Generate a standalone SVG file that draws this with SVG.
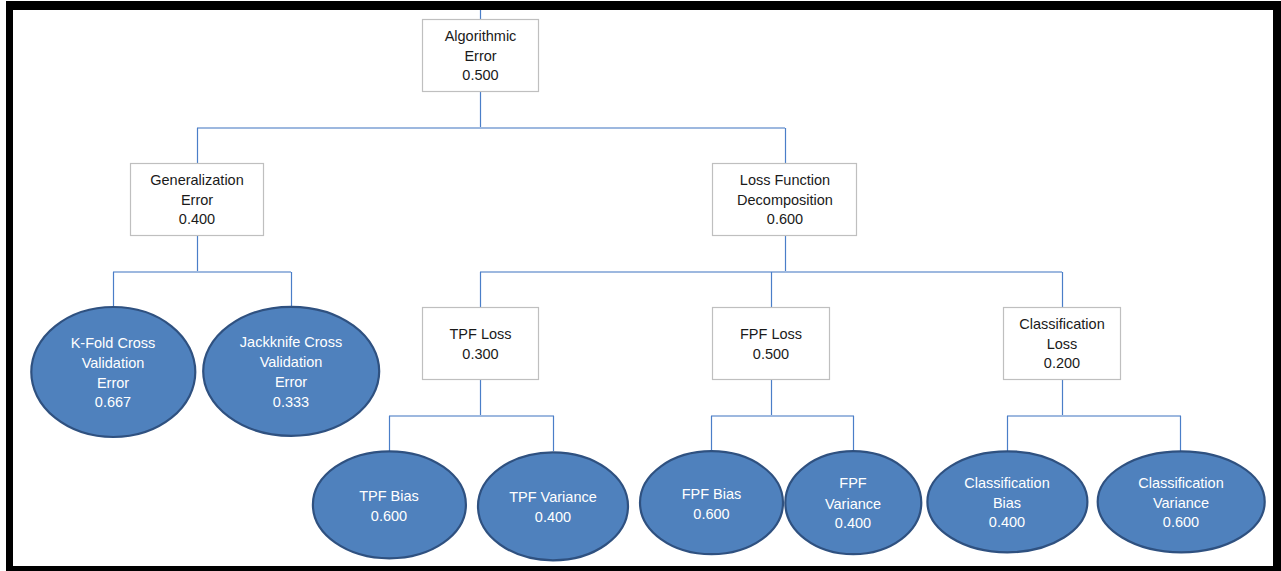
<svg xmlns="http://www.w3.org/2000/svg" width="1281" height="571" viewBox="0 0 1281 571">
  <style>
    .box { fill: #ffffff; stroke: #bfbfbf; stroke-width: 1.2; }
    .oval { fill: #4f81bd; stroke: #2f5180; stroke-width: 2.2; }
    .bt { font-family: "Liberation Sans", Arial, sans-serif; font-size: 14.5px; fill: #1a1a1a; text-anchor: middle; }
    .ot { font-family: "Liberation Sans", Arial, sans-serif; font-size: 14.5px; fill: #ffffff; text-anchor: middle; }
    .v { stroke: #4a7ec8; stroke-width: 1.2; fill: none; }
    .h { stroke: #9db8df; stroke-width: 2; fill: none; }
  </style>

  <!-- frame -->
  <rect x="0" y="0" width="1281" height="571" fill="#ffffff"/>
  <rect x="6" y="1" width="1275" height="570" fill="#000000"/>
  <rect x="13" y="10" width="1260" height="556" fill="#ffffff"/>

  <!-- connectors -->
  <g id="connectors">
    <line class="v" x1="480.5" y1="10" x2="480.5" y2="19"/>
    <line class="v" x1="480.5" y1="91" x2="480.5" y2="128"/>
    <line class="h" x1="197" y1="128" x2="785" y2="128"/>
    <line class="v" x1="197.5" y1="128" x2="197.5" y2="163"/>
    <line class="v" x1="785.5" y1="128" x2="785.5" y2="163"/>

    <line class="v" x1="197.5" y1="235" x2="197.5" y2="272"/>
    <line class="h" x1="113" y1="272" x2="291" y2="272"/>
    <line class="v" x1="113.5" y1="272" x2="113.5" y2="307"/>
    <line class="v" x1="291.5" y1="272" x2="291.5" y2="307"/>

    <line class="v" x1="785.5" y1="235" x2="785.5" y2="272"/>
    <line class="h" x1="480" y1="272" x2="1062" y2="272"/>
    <line class="v" x1="480.5" y1="272" x2="480.5" y2="307"/>
    <line class="v" x1="771.5" y1="272" x2="771.5" y2="307"/>
    <line class="v" x1="1062.5" y1="272" x2="1062.5" y2="307"/>

    <line class="v" x1="480.5" y1="379" x2="480.5" y2="416"/>
    <line class="h" x1="389" y1="416" x2="554" y2="416"/>
    <line class="v" x1="389.5" y1="416" x2="389.5" y2="451"/>
    <line class="v" x1="553.5" y1="416" x2="553.5" y2="451"/>

    <line class="v" x1="771.5" y1="379" x2="771.5" y2="416"/>
    <line class="h" x1="711" y1="416" x2="854" y2="416"/>
    <line class="v" x1="711.5" y1="416" x2="711.5" y2="451"/>
    <line class="v" x1="853.5" y1="416" x2="853.5" y2="451"/>

    <line class="v" x1="1062.5" y1="379" x2="1062.5" y2="416"/>
    <line class="h" x1="1007" y1="416" x2="1181" y2="416"/>
    <line class="v" x1="1007.5" y1="416" x2="1007.5" y2="451"/>
    <line class="v" x1="1180.5" y1="416" x2="1180.5" y2="451"/>
  </g>

  <!-- rectangular nodes -->
  <g id="algorithmic-error">
    <rect class="box" x="422.5" y="19.5" width="116" height="72"/>
    <text class="bt" x="480.5" y="41">Algorithmic</text>
    <text class="bt" x="480.5" y="61">Error</text>
    <text class="bt" x="480.5" y="80">0.500</text>
  </g>
  <g id="generalization-error">
    <rect class="box" x="130.5" y="163.5" width="133" height="72"/>
    <text class="bt" x="197" y="185">Generalization</text>
    <text class="bt" x="197" y="205">Error</text>
    <text class="bt" x="197" y="224">0.400</text>
  </g>
  <g id="loss-function-decomposition">
    <rect class="box" x="712.5" y="163.5" width="144" height="72"/>
    <text class="bt" x="785" y="185">Loss Function</text>
    <text class="bt" x="785" y="205">Decomposition</text>
    <text class="bt" x="785" y="224">0.600</text>
  </g>
  <g id="tpf-loss">
    <rect class="box" x="422.5" y="307.5" width="116" height="72"/>
    <text class="bt" x="480.5" y="339">TPF Loss</text>
    <text class="bt" x="480.5" y="359">0.300</text>
  </g>
  <g id="fpf-loss">
    <rect class="box" x="712.5" y="307.5" width="117" height="72"/>
    <text class="bt" x="771" y="339">FPF Loss</text>
    <text class="bt" x="771" y="359">0.500</text>
  </g>
  <g id="classification-loss">
    <rect class="box" x="1003.5" y="307.5" width="117" height="72"/>
    <text class="bt" x="1062" y="329">Classification</text>
    <text class="bt" x="1062" y="349">Loss</text>
    <text class="bt" x="1062" y="368">0.200</text>
  </g>

  <!-- elliptical leaf nodes -->
  <g id="kfold-cv-error">
    <ellipse class="oval" cx="113.3" cy="372" rx="82" ry="65"/>
    <text class="ot" x="113" y="348">K-Fold Cross</text>
    <text class="ot" x="113" y="368">Validation</text>
    <text class="ot" x="113" y="387.5">Error</text>
    <text class="ot" x="113" y="407">0.667</text>
  </g>
  <g id="jackknife-cv-error">
    <ellipse class="oval" cx="291.2" cy="371.3" rx="88" ry="64.5"/>
    <text class="ot" x="291" y="347">Jackknife Cross</text>
    <text class="ot" x="291" y="367">Validation</text>
    <text class="ot" x="291" y="386.5">Error</text>
    <text class="ot" x="291" y="406.5">0.333</text>
  </g>
  <g id="tpf-bias">
    <ellipse class="oval" cx="389.4" cy="504.8" rx="76.5" ry="53.5"/>
    <text class="ot" x="389" y="500.5">TPF Bias</text>
    <text class="ot" x="389" y="520.5">0.600</text>
  </g>
  <g id="tpf-variance">
    <ellipse class="oval" cx="553" cy="506.3" rx="75" ry="54"/>
    <text class="ot" x="553" y="502">TPF Variance</text>
    <text class="ot" x="553" y="522">0.400</text>
  </g>
  <g id="fpf-bias">
    <ellipse class="oval" cx="711.5" cy="502.7" rx="71.5" ry="51.5"/>
    <text class="ot" x="711.5" y="499">FPF Bias</text>
    <text class="ot" x="711.5" y="519">0.600</text>
  </g>
  <g id="fpf-variance">
    <ellipse class="oval" cx="853.3" cy="502.7" rx="68" ry="51.5"/>
    <text class="ot" x="853" y="488">FPF</text>
    <text class="ot" x="853" y="508.5">Variance</text>
    <text class="ot" x="853" y="528">0.400</text>
  </g>
  <g id="classification-bias">
    <ellipse class="oval" cx="1007.4" cy="501.8" rx="80" ry="50.5"/>
    <text class="ot" x="1007" y="488">Classification</text>
    <text class="ot" x="1007" y="508">Bias</text>
    <text class="ot" x="1007" y="527">0.400</text>
  </g>
  <g id="classification-variance">
    <ellipse class="oval" cx="1181.2" cy="501.8" rx="83.5" ry="50.5"/>
    <text class="ot" x="1181" y="488">Classification</text>
    <text class="ot" x="1181" y="508">Variance</text>
    <text class="ot" x="1181" y="527">0.600</text>
  </g>
</svg>
